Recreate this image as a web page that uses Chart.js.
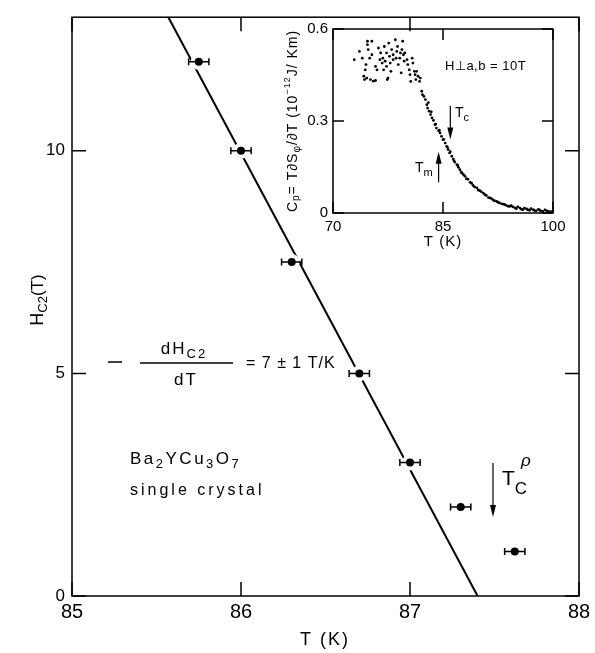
<!DOCTYPE html>
<html>
<head>
<meta charset="utf-8">
<script src="https://cdn.jsdelivr.net/npm/chart.js@4.4.0/dist/chart.umd.min.js"></script>
<style>
    html, body { margin: 0; padding: 0; background: #fff; }
    #wrap { position: relative; width: 595px; height: 653px; }
    #mainChart { position: absolute; left: 0; top: 0; }
    #insetChart { position: absolute; left: 270px; top: 10px; }
</style>
</head>
<body>
<div id="wrap">
    <canvas id="mainChart" width="595" height="653"></canvas>
    <canvas id="insetChart" width="310" height="250"></canvas>
</div>
<script>
// main panel: Hc2 vs T
const tempK = [85.75, 86.0, 86.3, 86.7, 87.0, 87.3, 87.62];
const hc2 = [12, 10, 7.5, 5, 3, 2, 1];
const tempErr = [0.06, 0.06, 0.06, 0.06, 0.06, 0.06, 0.06];
const fitT = [85.57, 87.40];
const fitH = [13, 0];
const xTicks = [85, 86, 87, 88];
const yTicks = [0, 5, 10];

// inset: Cp vs T
const insetT = [72.9, 73.6, 74.0, 74.2, 74.4, 74.5, 74.7, 74.7, 74.8, 75.0, 75.1, 75.3, 75.3, 75.5, 75.8, 76.0,
    76.2, 76.4, 76.5, 76.7, 76.8, 76.9, 77.0, 77.1, 77.3, 77.3, 77.4, 77.6, 77.7, 77.8, 77.9, 78.0, 78.2, 78.2,
    78.5, 78.6, 78.7, 78.8, 78.9, 79.1, 79.2, 79.3, 79.4, 79.5, 79.6, 79.7, 79.8, 80.1, 80.2, 80.4, 80.5, 80.6,
    80.8, 80.9, 81.1, 81.2, 81.3, 81.4, 81.6, 81.8, 81.9, 74.3, 74.6, 75.8, 77.5,
    82.1, 82.2, 82.4, 82.6, 82.8, 82.9, 83.1, 83.3, 83.5, 83.7, 83.9, 84.1, 84.4, 84.6, 84.8, 85.0, 85.3, 85.5,
    85.7, 85.9, 86.2, 86.4, 86.6, 86.9, 87.1, 87.3, 87.5, 87.8, 88.0, 88.2, 88.7, 89.1, 89.6, 90.0, 90.5, 90.9,
    91.4, 91.8, 92.3, 92.7, 93.2, 93.6, 94.1, 94.5, 95.0, 95.5, 95.9, 96.4, 96.8, 97.3, 97.7, 98.2, 98.6, 99.1, 99.5,
    83.0, 83.4, 84.0, 84.5, 85.1, 85.6, 86.0, 86.5, 87.0, 87.6, 88.4, 88.9, 89.3, 89.8, 90.2, 90.7, 91.2, 91.6,
    92.0, 92.5, 93.0, 93.4, 93.9, 94.3, 94.8, 95.2, 95.7, 96.1, 96.6, 97.0, 97.5, 98.0, 98.4, 98.9, 99.3, 99.8];
const insetCp = [0.50, 0.527, 0.505, 0.446, 0.467, 0.484, 0.549, 0.56, 0.533, 0.505, 0.435, 0.516, 0.56, 0.43, 0.478, 0.467,
    0.538, 0.50, 0.522, 0.489, 0.505, 0.467, 0.543, 0.495, 0.522, 0.478, 0.435, 0.554, 0.511, 0.489, 0.462, 0.533, 0.516, 0.50,
    0.565, 0.505, 0.527, 0.543, 0.484, 0.505, 0.522, 0.457, 0.533, 0.56, 0.516, 0.495, 0.522, 0.50, 0.484, 0.467, 0.451, 0.429,
    0.505, 0.489, 0.462, 0.451, 0.435, 0.462, 0.446, 0.429, 0.44, 0.435, 0.44, 0.432, 0.44,
    0.397, 0.386, 0.38, 0.37, 0.353, 0.342, 0.332, 0.321, 0.31, 0.302, 0.288, 0.277, 0.268, 0.261, 0.25, 0.239, 0.228, 0.217,
    0.207, 0.196, 0.185, 0.176, 0.166, 0.158, 0.149, 0.141, 0.133, 0.125, 0.12, 0.112, 0.10, 0.09, 0.082, 0.073, 0.065, 0.057,
    0.049, 0.043, 0.038, 0.033, 0.029, 0.025, 0.022, 0.02, 0.014, 0.016, 0.011, 0.013, 0.009, 0.011, 0.007, 0.009, 0.005, 0.008, 0.004,
    0.36, 0.33, 0.29, 0.27, 0.24, 0.215, 0.20, 0.17, 0.155, 0.13, 0.11, 0.097, 0.085, 0.075, 0.07, 0.06, 0.05, 0.047,
    0.04, 0.035, 0.03, 0.028, 0.022, 0.024, 0.017, 0.02, 0.012, 0.016, 0.01, 0.014, 0.008, 0.012, 0.006, 0.01, 0.005, 0.004];
const insetXTicks = [70, 85, 100];
const insetYTicks = [0, 0.3, 0.6];

const FONT = "'Liberation Sans', Arial, sans-serif";
Chart.defaults.font.family = FONT;
Chart.defaults.color = '#000';

// draw a run of text pieces: [text, size, dy, style]
function rich(ctx, x, y, parts, align) {
    const fnt = p => (p[3] || '') + ' ' + p[1] + 'px ' + FONT;
    let w = 0;
    parts.forEach(p => { ctx.font = fnt(p); w += ctx.measureText(p[0]).width; });
    let cx = align === 'center' ? x - w / 2 : x;
    parts.forEach(p => {
        ctx.font = fnt(p);
        ctx.fillText(p[0], cx, y + (p[2] || 0));
        cx += ctx.measureText(p[0]).width;
    });
}

function arrow(ctx, x, y0, y1) {
    const dir = y1 > y0 ? 1 : -1;
    ctx.beginPath();
    ctx.moveTo(x, y0);
    ctx.lineTo(x, y1 - dir * 10);
    ctx.stroke();
    ctx.beginPath();
    ctx.moveTo(x, y1);
    ctx.lineTo(x - 3, y1 - dir * 12);
    ctx.lineTo(x + 3, y1 - dir * 12);
    ctx.closePath();
    ctx.fill();
}

// box round the plot area with ticks pointing inward on all four sides
function frame(chart, xt, yt, len) {
    const { ctx, chartArea: a, scales: { x, y } } = chart;
    ctx.save();
    ctx.strokeStyle = '#000';
    ctx.lineWidth = 1.5;
    ctx.strokeRect(a.left, a.top, a.right - a.left, a.bottom - a.top);
    ctx.beginPath();
    xt.forEach(v => {
        const px = x.getPixelForValue(v);
        ctx.moveTo(px, a.bottom); ctx.lineTo(px, a.bottom - len);
        ctx.moveTo(px, a.top); ctx.lineTo(px, a.top + len);
    });
    yt.forEach(v => {
        const py = y.getPixelForValue(v);
        ctx.moveTo(a.left, py); ctx.lineTo(a.left + len, py);
        ctx.moveTo(a.right, py); ctx.lineTo(a.right - len, py);
    });
    ctx.stroke();
    ctx.restore();
}

const mainDecor = {
    id: 'mainDecor',
    afterDatasetsDraw(chart) {
        const { ctx, scales: { x, y } } = chart;
        ctx.save();
        ctx.strokeStyle = '#000';
        ctx.lineWidth = 1.5;
        ctx.beginPath();
        tempK.forEach((t, i) => {
            const py = y.getPixelForValue(hc2[i]);
            const x0 = x.getPixelForValue(t - tempErr[i]);
            const x1 = x.getPixelForValue(t + tempErr[i]);
            ctx.moveTo(x0, py); ctx.lineTo(x1, py);
            ctx.moveTo(x0, py - 3.5); ctx.lineTo(x0, py + 3.5);
            ctx.moveTo(x1, py - 3.5); ctx.lineTo(x1, py + 3.5);
        });
        ctx.stroke();
        ctx.restore();
    },
    afterDraw(chart) {
        frame(chart, xTicks, yTicks, 14);
        const ctx = chart.ctx;
        ctx.save();
        ctx.fillStyle = '#000';
        ctx.strokeStyle = '#000';
        ctx.textBaseline = 'middle';

        // axis titles
        ctx.letterSpacing = '2px';
        rich(ctx, 325, 640, [['T (K)', 18]], 'center');
        ctx.letterSpacing = '0px';
        ctx.save();
        ctx.translate(38, 300);
        ctx.rotate(-Math.PI / 2);
        rich(ctx, 0, 0, [['H', 18], ['C2', 13, 5], ['(T)', 17]], 'center');
        ctx.restore();

        // slope note
        ctx.lineWidth = 1.5;
        ctx.beginPath();
        ctx.moveTo(108, 362); ctx.lineTo(122, 362);
        ctx.moveTo(140, 363); ctx.lineTo(233, 363);
        ctx.stroke();
        ctx.letterSpacing = '2px';
        rich(ctx, 184, 349, [['dH', 17], ['C2', 13, 5]], 'center');
        rich(ctx, 186, 380, [['dT', 17]], 'center');
        ctx.letterSpacing = '1px';
        rich(ctx, 246, 364, [['= 7 ± 1 T/K', 16]], 'left');

        // sample note
        ctx.letterSpacing = '2.5px';
        rich(ctx, 130, 459, [['Ba', 17], ['2', 13, 5], ['YCu', 17], ['3', 13, 5], ['O', 17], ['7', 13, 5]], 'left');
        ctx.letterSpacing = '3px';
        rich(ctx, 130, 491, [['single crystal', 16]], 'left');
        ctx.letterSpacing = '0px';

        // Tc rho marker
        ctx.lineWidth = 1.2;
        arrow(ctx, 493, 463, 517);
        rich(ctx, 502, 479, [['T', 21], ['C', 17, 10]], 'left');
        rich(ctx, 521, 461, [['ρ', 17, 0, 'italic']], 'left');
        ctx.restore();
    }
};

new Chart(document.getElementById('mainChart').getContext('2d'), {
    type: 'scatter',
    data: {
        datasets: [
            {
                data: tempK.map((t, i) => ({ x: t, y: hc2[i] })),
                pointRadius: 6,
                pointBorderWidth: 4,
                pointBorderColor: '#fff',
                pointBackgroundColor: '#000'
            },
            {
                data: fitT.map((t, i) => ({ x: t, y: fitH[i] })),
                showLine: true,
                borderColor: '#000',
                borderWidth: 2,
                pointRadius: 0
            }
        ]
    },
    options: {
        responsive: false,
        animation: false,
        devicePixelRatio: 1,
        events: [],
        layout: { padding: { left: 0, right: 16, top: 5, bottom: 0 } },
        plugins: { legend: { display: false }, tooltip: { enabled: false } },
        scales: {
            x: {
                type: 'linear', min: 85, max: 88,
                afterBuildTicks: s => { s.ticks = xTicks.map(v => ({ value: v })); },
                afterFit: s => { s.height = 57; },
                grid: { display: false, drawTicks: false },
                border: { display: false },
                ticks: { font: { size: 20 }, padding: 4, maxRotation: 0 }
            },
            y: {
                min: 0, max: 13,
                afterBuildTicks: s => { s.ticks = yTicks.map(v => ({ value: v })); },
                afterFit: s => { s.width = 72; },
                grid: { display: false, drawTicks: false },
                border: { display: false },
                ticks: { font: { size: 17 }, padding: 7 }
            }
        }
    },
    plugins: [mainDecor]
});

const insetDecor = {
    id: 'insetDecor',
    afterDraw(chart) {
        frame(chart, insetXTicks, insetYTicks, 11);
        const { ctx, scales: { x, y } } = chart;
        ctx.save();
        ctx.fillStyle = '#000';
        ctx.strokeStyle = '#000';
        ctx.textBaseline = 'middle';
        ctx.letterSpacing = '1px';
        rich(ctx, 173, 232, [['T (K)', 15]], 'center');
        ctx.save();
        ctx.translate(23, 111);
        ctx.rotate(-Math.PI / 2);
        rich(ctx, 0, 0, [['C', 14], ['p', 10, 3], ['= T∂S', 14], ['φ', 10, 4], ['/∂T (10', 14], ['−12', 9, -5], ['J/ Km)', 14]], 'center');
        ctx.restore();
        ctx.letterSpacing = '0.5px';
        rich(ctx, 175, 56, [['H⊥a,b = 10T', 13]], 'left');
        ctx.letterSpacing = '0px';

        // Tc and Tm arrows
        ctx.lineWidth = 1.2;
        arrow(ctx, x.getPixelForValue(86.0), y.getPixelForValue(0.35), y.getPixelForValue(0.24));
        arrow(ctx, x.getPixelForValue(84.4), y.getPixelForValue(0.10), y.getPixelForValue(0.20));
        rich(ctx, 185, 103, [['T', 14], ['c', 11, 5]], 'left');
        rich(ctx, 145, 158, [['T', 14], ['m', 11, 5]], 'left');
        ctx.restore();
    }
};

new Chart(document.getElementById('insetChart').getContext('2d'), {
    type: 'scatter',
    data: {
        datasets: [{
            data: insetT.map((t, i) => ({ x: t, y: insetCp[i] })),
            pointRadius: 1.4,
            pointBorderWidth: 0,
            pointBackgroundColor: '#000'
        }]
    },
    options: {
        responsive: false,
        animation: false,
        devicePixelRatio: 1,
        events: [],
        layout: { padding: { left: 0, right: 27, top: 19, bottom: 0 } },
        plugins: { legend: { display: false }, tooltip: { enabled: false } },
        scales: {
            x: {
                type: 'linear', min: 70, max: 100,
                afterBuildTicks: s => { s.ticks = insetXTicks.map(v => ({ value: v })); },
                afterFit: s => { s.height = 47; },
                grid: { display: false, drawTicks: false },
                border: { display: false },
                ticks: { font: { size: 15 }, padding: 5, maxRotation: 0 }
            },
            y: {
                min: 0, max: 0.6,
                afterBuildTicks: s => { s.ticks = insetYTicks.map(v => ({ value: v })); },
                afterFit: s => { s.width = 63; },
                grid: { display: false, drawTicks: false },
                border: { display: false },
                ticks: { font: { size: 15 }, padding: 5, callback: v => v === 0 ? '0' : v.toFixed(1) }
            }
        }
    },
    plugins: [insetDecor]
});
</script>
</body>
</html>
